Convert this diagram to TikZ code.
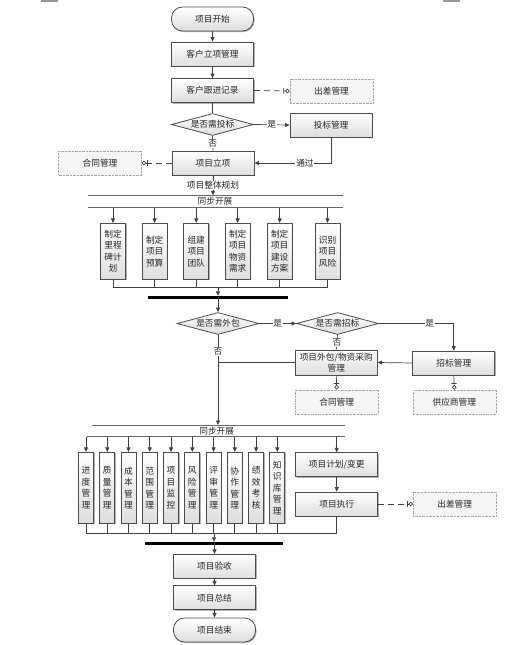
\documentclass[tikz,border=0pt]{standalone}
\usepackage{fontspec}
\newfontfamily\cjk{Noto Sans CJK SC}
\usetikzlibrary{arrows.meta,shapes.geometric,shadows}
\begin{document}
\begin{tikzpicture}[x=1pt,y=-1pt,
  every node/.style={font=\cjk\fontsize{8.7}{11.5}\selectfont, text=black!85},
  shade/.style={top color=white, bottom color=black!13},
  shd/.style={drop shadow={shadow xshift=1pt, shadow yshift=-1pt, opacity=0.3, fill=black}},
  proc/.style={draw=black!70, line width=0.8pt, shade, shd, minimum width=82pt, minimum height=24pt, inner sep=1pt, align=center},
  term/.style={proc, rounded corners=11pt},
  vbox/.style={proc, minimum width=25pt, minimum height=56pt},
  tbox/.style={proc, minimum width=15pt, minimum height=71pt},
  ext/.style={draw=black!35, densely dotted, fill=black!4, minimum width=83pt, minimum height=24pt, inner sep=1pt},
  dec/.style={diamond, draw=black!70, line width=0.8pt, shade, aspect=3.6, inner sep=0pt, minimum width=82pt, minimum height=22pt},
  lbl/.style={fill=white, inner sep=0.8pt},
  conn/.style={draw=black!75, line width=0.7pt},
  arr/.style={conn, -{Triangle[length=4.5pt,width=4pt]}},
  tee/.style={conn, -{Bar[width=5.5pt,sep=1.2pt]Circle[open,length=4.5pt,width=4.5pt]}},
  dsh/.style={tee, dash pattern=on 6pt off 4pt},
  syncline/.style={draw=black!60, line width=0.8pt},
  joinbar/.style={draw=black, line width=3pt}
]
\useasboundingbox (0,0) rectangle (531,645);
% corner marks
\coordinate (m1a) at (41,1); \coordinate (m1b) at (58,1);
\coordinate (m2a) at (443,1); \coordinate (m2b) at (460,1);
\draw[black!40, line width=1.5pt] (m1a) -- (m1b);
\draw[black!40, line width=1.5pt] (m2a) -- (m2b);

% ---- top part
\node[term] (start) at (212.5,19) {项目开始};
\node[proc] (n1) at (212.5,54) {客户立项管理};
\node[proc] (n2) at (212.5,90.5) {客户跟进记录};
\node[ext] (trip1) at (331.5,91) {出差管理};
\node[dec] (d1) at (212.5,124.5) {是否需投标};
\node[proc] (bid) at (331,125) {投标管理};
\node[proc] (proj) at (213,163) {项目立项};
\node[ext] (con1) at (100,163) {合同管理};

\draw[arr] (start) -- (n1);
\draw[arr] (n1) -- (n2);
\draw[conn] (n2) -- (d1);
\draw[dsh] (n2.east) -- (trip1.west);
\draw[arr] (d1.east) -- node[lbl]{是} (bid.west);
\draw[conn] (d1.south) -- node[lbl]{否} (proj.north);
\draw[arr] (bid.south) |- node[lbl, pos=0.67]{通过} (proj.east);
\draw[dsh] (proj.west) -- (con1.east);

% ---- sync 1
\coordinate (s1a) at (88,195.3); \coordinate (s1b) at (343,195.3);
\coordinate (s2a) at (88,207.7); \coordinate (s2b) at (343,207.7);
\draw[syncline] (s1a) -- (s1b);
\draw[syncline] (s2a) -- (s2b);
\node (sync1) at (215,201.5) {同步开展};
\draw[arr] (proj.south) -- node[lbl]{项目整体规划} (proj.south |- s1a);

\node[vbox] (p1) at (113,251.3) {制定\\里程\\碑计\\划};
\node[vbox] (p2) at (154.7,251.3) {制定\\项目\\预算};
\node[vbox] (p3) at (196.2,251.3) {组建\\项目\\团队};
\node[vbox] (p4) at (237.7,251.3) {制定\\项目\\物资\\需求};
\node[vbox] (p5) at (279.7,251.3) {制定\\项目\\建设\\方案};
\node[vbox] (p6) at (327.5,251.3) {识别\\项目\\风险};

\coordinate (j1) at (218,287.7);
\foreach \p in {p1,p2,p3,p4,p5,p6}{
  \draw[arr] (\p.north |- s2a) -- (\p.north);
  \draw[conn] (\p.south) -- (\p.south |- j1);
}
\draw[conn] (p1.south |- j1) -- (p6.south |- j1);
\coordinate (b1a) at (147.7,297.3); \coordinate (b1b) at (288.3,297.3);
\draw[joinbar] (b1a) -- (b1b);
\draw[arr, shorten >=1.5pt] (j1) -- (j1 |- b1a);

% ---- outsourcing
\node[dec] (d2) at (218,323.5) {是否需外包};
\node[dec] (d3) at (337.5,323.5) {是否需招标};
\node[proc] (tender) at (453.8,363) {招标管理};
\node[proc, minimum height=25pt] (outsrc) at (336.3,362.5) {项目外包/物资采购\\管理};
\node[ext] (con2) at (336.7,401.7) {合同管理};
\node[ext] (sup) at (454.3,401.7) {供应商管理};

\draw[arr] (d2.north |- b1a) -- (d2.north);
\draw[arr] (d2.east) -- node[lbl]{是} (d3.west);
\draw[arr] (d3.east) -| node[lbl, pos=0.34]{是} (tender.north);
\draw[conn] (d3.south) -- node[lbl]{否} (outsrc.north);
\draw[arr] (tender.west) -- (outsrc.east);
\draw[conn] (outsrc.west) -- (outsrc.west -| d2.south);
\draw[tee] (outsrc.south) -- (con2.north);
\draw[tee] (tender.south) -- (sup.north);

% ---- sync 2
\coordinate (s3a) at (91.7,425); \coordinate (s3b) at (345,425);
\coordinate (s4a) at (86.7,436.7); \coordinate (s4b) at (345,436.7);
\draw[syncline] (s3a) -- (s3b);
\draw[syncline] (s4a) -- (s4b);
\node (sync2) at (216.7,430.8) {同步开展};
\draw[arr] (d2.south) -- node[lbl, pos=0.18]{否} (d2.south |- s3a);

\node[tbox] (q1) at (86,487.8) {进\\度\\管\\理};
\node[tbox] (q2) at (107.3,487.8) {质\\量\\管\\理};
\node[tbox] (q3) at (128.5,487.8) {成\\本\\管\\理};
\node[tbox] (q4) at (149.8,487.8) {范\\围\\管\\理};
\node[tbox] (q5) at (171,487.8) {项\\目\\监\\控};
\node[tbox] (q6) at (192.3,487.8) {风\\险\\管\\理};
\node[tbox] (q7) at (213.6,487.8) {评\\审\\管\\理};
\node[tbox] (q8) at (234.8,487.8) {协\\作\\管\\理};
\node[tbox] (q9) at (256.1,487.8) {绩\\效\\考\\核};
\node[tbox] (q10) at (277.3,487.8) {知\\识\\库\\管\\理};
\node[proc] (plan) at (336.7,464.7) {项目计划/变更};
\node[proc] (exec) at (336.7,504) {项目执行};
\node[ext] (trip2) at (454.7,504) {出差管理};

\coordinate (j2) at (214,533.3);
\foreach \q in {q1,q2,q3,q4,q5,q6,q7,q8,q9,q10,plan}{
  \draw[arr] (\q.north |- s4a) -- (\q.north);
}
\foreach \q in {q1,q2,q3,q4,q5,q6,q7,q8,q9,q10,exec}{
  \draw[conn] (\q.south) -- (\q.south |- j2);
}
\draw[arr] (plan) -- (exec);
\draw[dsh] (exec.east) -- (trip2.west);
\draw[conn] (q1.south |- j2) -- (exec.south |- j2);
\coordinate (b2a) at (145,543.3); \coordinate (b2b) at (283.3,543.3);
\draw[joinbar] (b2a) -- (b2b);
\draw[arr, shorten >=1.5pt] (j2) -- (j2 |- b2a);

% ---- end
\node[proc] (accept) at (214.5,566.3) {项目验收};
\node[proc] (summary) at (214.5,597.8) {项目总结};
\node[term] (finish) at (214.5,630) {项目结束};
\draw[arr] (accept.north |- b2a) -- (accept.north);
\draw[arr] (accept) -- (summary);
\draw[arr] (summary) -- (finish);
\end{tikzpicture}
\end{document}
